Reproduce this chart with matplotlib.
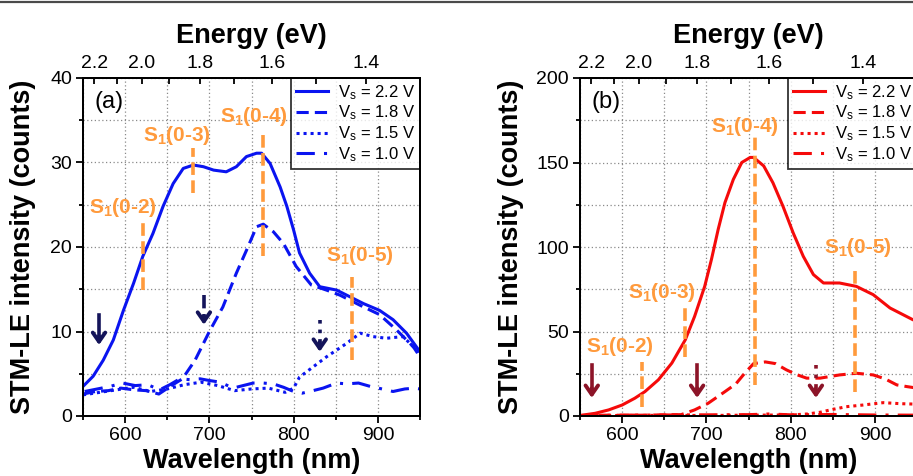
import numpy as np
import matplotlib
matplotlib.use("Agg")
import matplotlib.pyplot as plt
from matplotlib.lines import Line2D
from matplotlib.ticker import MultipleLocator, FixedLocator

plt.rcParams.update({"font.family": "Liberation Sans", "mathtext.fontset": "custom",
                     "mathtext.rm": "Liberation Sans", "mathtext.bf": "Liberation Sans:bold",
                     "mathtext.it": "Liberation Sans:italic"})

# ---- panel (a): blue spectra ----
wl_a22 = [550, 562, 574, 586, 598, 610, 621, 633, 645, 657, 669, 681, 693, 705, 720, 732, 744,
          756, 762, 772, 784, 792, 800, 807, 819, 831, 851, 867, 883, 902, 918, 934, 950]
i_a22 = [3.5, 4.7, 6.6, 9.0, 12.5, 15.7, 18.9, 21.6, 24.8, 27.5, 29.3, 29.7, 29.5, 29.1, 28.9,
         29.5, 30.7, 31.1, 31.1, 29.9, 27.1, 24.8, 22.0, 19.3, 16.9, 15.3, 14.9, 14.1, 13.3, 12.5,
         11.4, 9.8, 7.6]
wl_a18 = [550, 565, 580, 595, 610, 625, 640, 655, 668, 683, 700, 716, 732, 744, 756, 764, 776,
          788, 803, 821, 839, 855, 879, 902, 922, 942, 950]
i_a18 = [2.6, 2.9, 3.0, 3.3, 3.1, 3.0, 2.6, 3.6, 4.4, 6.6, 10.0, 12.9, 16.9, 19.6, 22.4, 22.7,
         21.8, 20.4, 17.7, 15.5, 14.9, 14.3, 13.1, 12.0, 10.2, 8.2, 7.0]
wl_a15 = [550, 570, 590, 610, 630, 650, 670, 690, 710, 730, 750, 770, 790, 800, 807, 823, 839,
          863, 879, 894, 910, 930, 950]
i_a15 = [2.5, 2.8, 3.1, 3.4, 2.9, 3.2, 3.7, 4.0, 3.6, 3.0, 3.2, 3.3, 2.8, 3.3, 4.6, 5.8, 7.0,
         8.6, 9.8, 9.4, 9.2, 9.4, 7.4]
wl_a10 = [552, 567, 582, 597, 612, 627, 641, 653, 665, 677, 689, 700, 713, 728, 740, 752, 764,
          776, 788, 800, 810, 819, 835, 851, 863, 877, 891, 905, 918, 932, 944, 950]
i_a10 = [2.9, 3.2, 3.5, 3.9, 3.6, 3.7, 3.1, 3.7, 4.4, 4.3, 4.4, 4.2, 4.0, 3.3, 3.6, 3.9, 3.9,
         3.8, 3.4, 2.9, 2.7, 2.9, 3.3, 3.9, 3.8, 3.9, 3.5, 3.2, 2.9, 3.2, 3.3, 3.2]

# ---- panel (b): red spectra ----
wl_b22 = [550, 568, 584, 600, 615, 627, 643, 659, 675, 686, 698, 706, 714, 722, 732, 742, 752,
          756, 768, 779, 791, 803, 815, 827, 839, 858, 878, 898, 918, 945, 950]
i_b22 = [0.3, 1.6, 3.6, 6.5, 10.5, 14.4, 21.4, 31.3, 45.1, 58.9, 76.7, 92.6, 110.4, 126.2, 140,
         150, 153, 153, 148, 138, 124, 108.4, 94.5, 83.7, 78.7, 78.7, 76.7, 71.8, 63.9, 57, 56]
wl_b18 = [550, 580, 610, 640, 670, 686, 702, 722, 735, 745, 756, 770, 782, 795, 807, 819, 835,
          858, 878, 898, 912, 926, 938, 950]
i_b18 = [0.3, 0.5, 0.4, 0.6, 0.8, 3.6, 7.5, 14.4, 19.0, 25.0, 31.0, 32.0, 31.0, 27.3, 24.5,
         22.4, 22.4, 24.3, 25.3, 24.3, 22.0, 18.4, 17.4, 16.5]
wl_b15 = [550, 600, 650, 700, 750, 800, 820, 835, 847, 866, 886, 910, 930, 950]
i_b15 = [0.2, 0.3, 0.4, 0.3, 0.5, 0.6, 1.2, 2.2, 3.6, 5.5, 6.5, 7.9, 7.3, 7.0]
wl_b10 = [550, 600, 650, 700, 750, 775, 800, 850, 900, 950]
i_b10 = [0.3, 0.5, 0.6, 0.7, 0.8, 1.2, 0.7, 0.9, 0.6, 0.5]

# vibronic markers: line position, line span, label position
vib_names = ["0-2", "0-3", "0-4", "0-5"]
vib_a_wl = [621, 680.5, 763.5, 869]
vib_a_span = [(14.9, 23.2), (26.4, 31.7), (18.9, 33.6), (6.6, 16.4)]
vib_a_lab = [(598, 24.7), (662, 33.2), (753, 35.4), (879, 19.0)]
vib_b_wl = [623, 674.5, 757.6, 877]
vib_b_span = [(5.3, 32), (35, 64), (18.4, 165), (14.2, 88.4)]
vib_b_lab = [(597, 41), (647, 73), (746, 171.5), (880, 99.7)]

# onset arrows: wavelength, top, bottom, style
arr_a = [(569, 11.9, 8.4, "-"), (693.5, 14.3, 10.8, "--"), (831, 11.4, 7.6, ":")]
arr_b = [(564, 30, 10.7, "-"), (689, 30, 10.7, "-"), (830, 30, 10.7, ":")]

voltages = ["2.2", "1.8", "1.5", "1.0"]
STYLES = ["-", (0, (4, 2)), (0, (1, 1.3)), (0, (6, 3, 1, 3))]
E_TICKS = [2.2, 2.0, 1.8, 1.6, 1.4]
E_MINOR = [2.1, 1.9, 1.7, 1.5]
ORANGE = "#ff9a3c"


def panel(ax, curves, color, ymax, ystep, vib_wl, vib_span, vib_lab, arrows, acol, tag):
    for (wl, it), ls, v in zip(curves, STYLES, voltages):
        ax.plot(wl, it, color=color, lw=2.2, ls=ls, label=r"V$_\mathrm{s}$ = %s V" % v)
    for x, (lo, hi), (lx, ly), nm in zip(vib_wl, vib_span, vib_lab, vib_names):
        ax.plot([x, x], [lo, hi], color=ORANGE, lw=2.6, ls=(0, (3.5, 1.5)))
        ax.text(lx, ly, r"S$_\mathbf{1}$(%s)" % nm, color=ORANGE, fontsize=15,
                fontweight="bold", ha="center", va="center")
    for x, top, bot, ls in arrows:
        ax.plot([x, x], [top, bot + (top - bot) * 0.25], color=acol, lw=2.6, ls=ls)
        ax.annotate("", xy=(x, bot), xytext=(x, bot + (top - bot) * 0.3),
                    arrowprops=dict(arrowstyle="->,head_length=0.65,head_width=0.45",
                                    color=acol, lw=2.8, shrinkA=0, shrinkB=0))
    ax.set_xlim(550, 950)
    ax.set_ylim(0, ymax)
    ax.xaxis.set_major_locator(MultipleLocator(100))
    ax.xaxis.set_minor_locator(MultipleLocator(50))
    ax.yaxis.set_major_locator(MultipleLocator(2 * ystep))
    ax.yaxis.set_minor_locator(MultipleLocator(ystep))
    ax.grid(True, which="both", color="#8a8a8a", ls=(0, (1, 2)), lw=0.9)
    ax.set_axisbelow(True)
    ax.tick_params(which="both", direction="out", labelsize=14, width=1.3, top=False, right=False)
    ax.tick_params(which="major", length=5, pad=3)
    ax.tick_params(which="minor", length=3)
    for s in ax.spines.values():
        s.set_linewidth(1.4)
    ax.set_xlabel("Wavelength (nm)", fontsize=19.5, fontweight="bold", labelpad=3)
    ax.set_ylabel("STM-LE intensity (counts)", fontsize=19.5, fontweight="bold")
    ax.text(0.035, 0.93, tag, transform=ax.transAxes, fontsize=17, va="center", ha="left")
    leg = ax.legend(loc="upper right", fontsize=12, frameon=True, fancybox=False,
                    borderaxespad=0, handlelength=1.9, handletextpad=0.6, labelspacing=0.12,
                    borderpad=0.3)
    leg.get_frame().set_edgecolor("black")
    leg.get_frame().set_linewidth(1.3)
    top = ax.twiny()
    top.set_xlim(550, 950)
    top.xaxis.set_major_locator(FixedLocator([1239.84 / e for e in E_TICKS]))
    top.xaxis.set_minor_locator(FixedLocator([1239.84 / e for e in E_MINOR]))
    top.set_xticklabels(["%.1f" % e for e in E_TICKS])
    top.tick_params(which="both", direction="in", labelsize=14, width=1.3, pad=4)
    top.tick_params(which="major", length=4)
    top.tick_params(which="minor", length=4)
    top.set_xlabel("Energy (eV)", fontsize=19.5, fontweight="bold", labelpad=9)
    for s in top.spines.values():
        s.set_linewidth(1.4)


fig = plt.figure(figsize=(9.13, 4.76), dpi=100)
ax_a = fig.add_axes([83 / 913, 60 / 476, 337 / 913, 338 / 476])
ax_b = fig.add_axes([580 / 913, 60 / 476, 337 / 913, 338 / 476])

panel(ax_a, [(wl_a22, i_a22), (wl_a18, i_a18), (wl_a15, i_a15), (wl_a10, i_a10)], "#0a14f0",
      40, 5, vib_a_wl, vib_a_span, vib_a_lab, arr_a, "#14145a", "(a)")
panel(ax_b, [(wl_b22, i_b22), (wl_b18, i_b18), (wl_b15, i_b15), (wl_b10, i_b10)], "#f50a0a",
      200, 25, vib_b_wl, vib_b_span, vib_b_lab, arr_b, "#8c1428", "(b)")
ax_a.yaxis.set_label_coords(-0.14, 0.5)
ax_b.yaxis.set_label_coords(-0.167, 0.5)

fig.add_artist(Line2D([0, 1], [0.996, 0.996], color="#4a4a4a", lw=1.6, transform=fig.transFigure))
fig.savefig("out.png", dpi=100)
